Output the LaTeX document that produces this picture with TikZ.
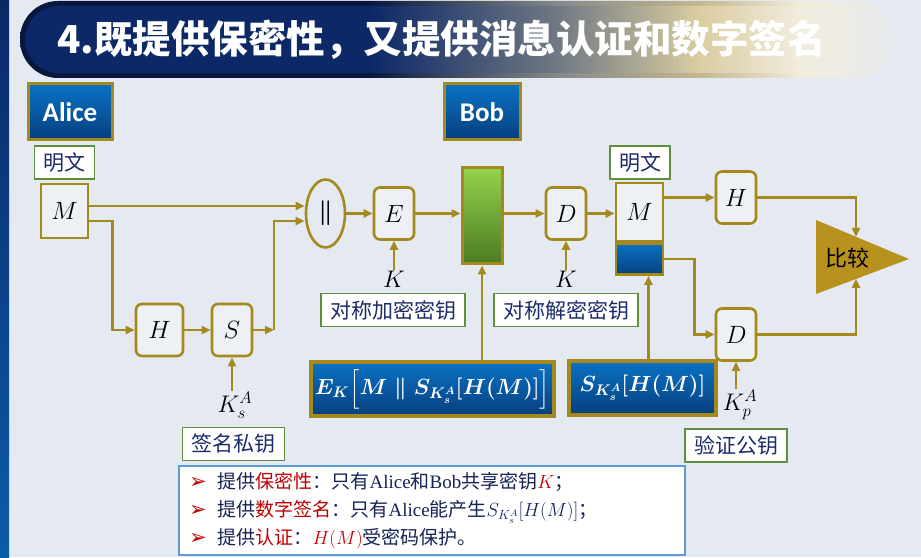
\RequirePackage{fix-cm}
\documentclass[tikz,border=0pt]{standalone}
\usepackage{amsmath,amssymb}
\usepackage{fontspec}
\usepackage{tikz}
\usetikzlibrary{arrows.meta,positioning,calc,shapes.geometric}
\newfontfamily\cjk{Noto Sans CJK SC}
\newfontfamily\calibri{Carlito}
\newfontfamily\timesrm{Liberation Serif}
\newfontfamily\dejavu{DejaVu Sans}
\definecolor{Gold}{HTML}{A48A1C}
\definecolor{CmpGold}{HTML}{B8921E}
\definecolor{LblGreen}{HTML}{5F8F3C}
\definecolor{Navy}{HTML}{1C2C6A}
\definecolor{BgGray}{HTML}{E5E9F1}
\definecolor{BlueTop}{HTML}{0A72C4}
\definecolor{BlueBot}{HTML}{063F7E}
\definecolor{GreenTop}{HTML}{94D24C}
\definecolor{GreenBot}{HTML}{4C7B22}
\definecolor{TitleNavy}{HTML}{0C2867}
\definecolor{Tan}{HTML}{D9CCA0}
\definecolor{NoteRed}{HTML}{C00000}
\definecolor{NoteBlue}{HTML}{5B9BD5}
\pgfdeclarehorizontalshading{titlefade}{100bp}{color(0bp)=(TitleNavy); color(45bp)=(TitleNavy); color(56bp)=(TitleNavy!50!Tan); color(64bp)=(Tan); color(70bp)=(Tan!35!white); color(76bp)=(BgGray); color(100bp)=(BgGray)}
\pgfdeclarehorizontalshading{titlerim}{100bp}{color(0bp)=(TitleNavy!60!black); color(45bp)=(TitleNavy!60!black); color(56bp)=(TitleNavy!40!Tan); color(64bp)=(Tan!90!black); color(70bp)=(Tan!35!white); color(76bp)=(BgGray); color(100bp)=(BgGray)}

\tikzset{
  arr/.style={draw=Gold, line width=2.6pt, -{Triangle[length=9pt,width=8pt]}},
  blk/.style={draw=Gold, line width=2.6pt, rounded corners=6pt, fill=BgGray!70!white,
    minimum width=40pt, minimum height=52pt, inner sep=0pt, font=\fontsize{25}{25}\selectfont},
  msgbox/.style={blk, sharp corners, minimum width=47pt},
  lbl/.style={draw=LblGreen, line width=1.4pt, fill=white, text=Navy, inner xsep=9pt, inner ysep=0pt,
    minimum height=33pt, font=\cjk\fontsize{21}{21}\selectfont},
  who/.style={draw=Gold, line width=3pt, top color=BlueTop, bottom color=BlueBot, text=white,
    font=\calibri\bfseries\fontsize{27}{27}\selectfont, minimum height=56pt},
  cipher/.style={draw=Gold, line width=4pt, top color=BlueTop, bottom color=BlueBot, text=white,
    minimum height=54pt, font=\fontsize{22}{22}\selectfont\boldmath},
  keytxt/.style={inner sep=1pt, font=\fontsize{24}{24}\selectfont},
}

\begin{document}
\begin{tikzpicture}[x=1pt,y=1pt]
  \fill[BgGray] (0,0) rectangle (921,557);
  \useasboundingbox (0,0) rectangle (921,557);
  \shade[top color=TitleNavy, bottom color=BlueTop!70!TitleNavy] (0,0) rectangle (9,557);

  % title banner
  \shade[shading=titlerim, rounded corners=38pt] (20,479) rectangle (892,556);
  \shade[shading=titlefade, rounded corners=34pt] (25,484) rectangle (888,551);
  \node[anchor=west, text=white, inner sep=0pt, font=\cjk\bfseries\fontsize{38.5}{38.5}\selectfont] (title) at (57,517)
    {4.既提供保密性，又提供消息认证和数字签名};

  \node[who, minimum width=84pt] (alice) at (70,445) {Alice};
  \node[who, minimum width=76pt] (bob) at (482,445) {Bob};

  % Alice side
  \node[lbl] (plainA) at (64.5,394.5) {明文};
  \node[msgbox, minimum height=54pt] (msgA) at (64.5,346) {$M$};
  \node[blk, minimum width=47pt] (hashA) at (159.5,227) {$H$};
  \node[blk] (sig) at (232,227) {$S$};
  \node[keytxt] (ksA) at (235,152) {$K_s^A$};
  \node[lbl] (ksAname) at (233.5,113) {签名私钥};
  \node[draw=Gold, line width=2.6pt, ellipse, minimum width=39pt, minimum height=68pt, inner sep=0pt,
    font=\fontsize{25}{25}\selectfont\boldmath] (cat) at (325.5,343.5) {$\|$};
  \node[blk] (enc) at (394,343.5) {$E$};
  \node[keytxt] (kE) at (394,278) {$K$};
  \node[lbl] (kEname) at (393,247) {对称加密密钥};
  \node[draw=Gold, line width=3pt, top color=GreenTop, bottom color=GreenBot,
    minimum width=40pt, minimum height=96pt] (ctext) at (482,341) {};
  \node[cipher, minimum width=243pt] (ekbox) at (432.5,168) {$E_K\Big[M \parallel S_{K_s^A}[H(M)]\Big]$};

  % Bob side
  \node[blk] (dec) at (566,343.5) {$D$};
  \node[keytxt] (kD) at (566,278) {$K$};
  \node[lbl] (kDname) at (566,247) {对称解密密钥};
  \node[lbl] (plainB) at (640,394.5) {明文};
  \node[msgbox, minimum height=58pt] (msgB) at (639.5,345) {$M$};
  \node[draw=Gold, line width=2.6pt, top color=BlueTop, bottom color=BlueBot,
    minimum width=47pt, minimum height=31pt, anchor=north] (sigB) at (msgB.south) {};
  \node[cipher, minimum width=147pt] (skbox) at (642.5,169) {$S_{K_s^A}[H(M)]$};
  \node[blk] (hashB) at (736,359.5) {$H$};
  \node[blk] (verify) at (736,222.5) {$D$};
  \node[keytxt] (kpA) at (740,152) {$K_p^A$};
  \node[lbl] (kpAname) at (736,111.5) {验证公钥};

  % compare
  \coordinate (cmpA) at (816,337);
  \coordinate (cmpB) at (816,263);
  \coordinate (cmpC) at (909,298);
  \fill[CmpGold] (cmpA) -- (cmpC) -- (cmpB) -- cycle;
  \node[font=\cjk\fontsize{22}{22}\selectfont] (cmp) at (847,299) {比较};

  % connectors
  \draw[arr] ([yshift=5pt]msgA.east) -- ([yshift=7.5pt]cat.west);
  \draw[arr] ([yshift=-10pt]msgA.east) -- ++(23,0) |- (hashA.west);
  \draw[arr] (hashA) -- (sig);
  \coordinate (sigout) at (274,227);
  \draw[arr] (sig) -- (sigout);
  \draw[arr] (sigout) |- ([yshift=-7.5pt]cat.west);
  \draw[arr] (cat) -- (enc);
  \draw[arr] (enc.east) -- (enc.east -| ctext.west);
  \draw[arr] (ctext.east |- dec.west) -- (dec.west);
  \draw[arr] (dec.east) -- (dec.east -| msgB.west);
  \draw[arr] (msgB.east |- hashB.west) -- (hashB.west);
  \draw[arr] (hashB.east) -| ($(cmpA)!0.43!(cmpC)$);
  \draw[arr] (sigB.east) -- ++(30,0) |- (verify.west);
  \draw[arr] (verify.east) -| ($(cmpB)!0.43!(cmpC)$);
  \draw[arr] (enc.south |- kE.north) -- (enc.south);
  \draw[arr] (dec.south |- kD.north) -- (dec.south);
  \draw[arr] (sig.south |- ksA.north) -- (sig.south);
  \draw[arr] (verify.south |- kpA.north) -- (verify.south);
  \draw[arr] (ctext.south |- ekbox.north) -- (ctext.south);
  \draw[arr] ([xshift=6pt]skbox.north) -- ([xshift=6pt]skbox.north |- sigB.south);

  % summary
  \node[draw=NoteBlue, line width=2.4pt, fill=white, minimum width=506pt, minimum height=89pt,
    inner xsep=10pt, text width=486pt, align=left, text=Navy!80!black,
    font=\cjk\fontsize{19}{28}\selectfont] (note) at (432,46.5)
    {{\color{NoteRed}\dejavu\fontsize{21}{28}\selectfont ➢}\hspace{11pt}提供{\color{NoteRed}保密性}：只有{\timesrm Alice}和{\timesrm Bob}共享密钥{\color{NoteRed}$K$}；\\
     {\color{NoteRed}\dejavu\fontsize{21}{28}\selectfont ➢}\hspace{11pt}提供{\color{NoteRed}数字签名}：只有{\timesrm Alice}能产生$S_{K_s^A}[H(M)]$；\\
     {\color{NoteRed}\dejavu\fontsize{21}{28}\selectfont ➢}\hspace{11pt}提供{\color{NoteRed}认证}：{\color{NoteRed}$H(M)$}受密码保护。};
\end{tikzpicture}
\end{document}
